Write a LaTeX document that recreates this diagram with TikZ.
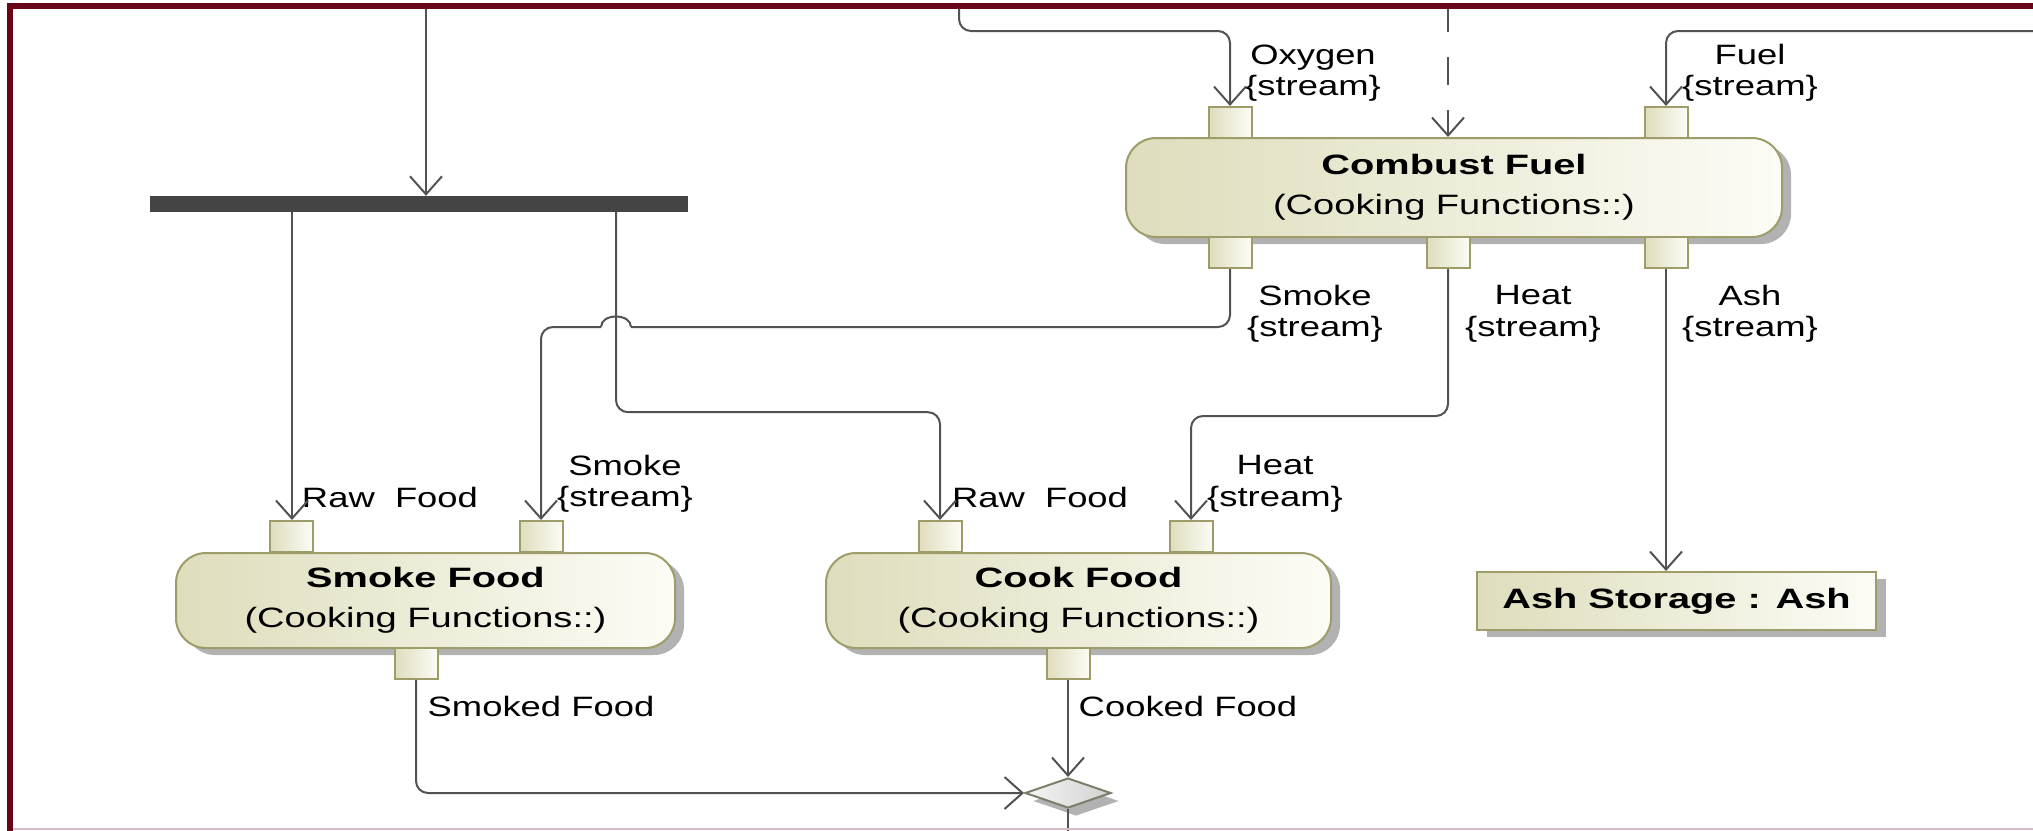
\documentclass[tikz,border=0pt]{standalone}
\usepackage{fontspec}
\setmainfont{Liberation Sans}
\newfontfamily\lblfont[FakeStretch=1.3]{Liberation Sans}
\newfontfamily\subfont[FakeStretch=1.36]{Liberation Sans}
\newfontfamily\ttlfont[FakeStretch=1.42]{Liberation Sans}
\usetikzlibrary{arrows.meta,shapes.geometric,shadows}

\definecolor{framered}{RGB}{105,5,25}
\definecolor{framelow}{RGB}{210,190,195}
\definecolor{flowgray}{RGB}{82,82,82}
\definecolor{actborder}{RGB}{158,156,104}
\definecolor{actleft}{RGB}{222,221,188}
\definecolor{actright}{RGB}{252,252,246}
\definecolor{forkgray}{RGB}{68,68,68}
\definecolor{shadowgray}{RGB}{178,178,178}
\definecolor{mergeborder}{RGB}{125,125,105}

\tikzset{
  action/.style={rectangle, rounded corners=30pt, draw=actborder, line width=2pt,
    left color=actleft, right color=actright,
    drop shadow={shadow xshift=9pt, shadow yshift=-7pt, fill=shadowgray, opacity=1},
    inner sep=0pt, align=center, font=\fontsize{28}{40}\selectfont},
  objnode/.style={rectangle, draw=actborder, line width=2pt,
    left color=actleft, right color=actright,
    drop shadow={shadow xshift=10pt, shadow yshift=-7pt, fill=shadowgray, opacity=1},
    inner sep=0pt, font=\ttlfont\bfseries\fontsize{28}{34}\selectfont},
  pin/.style={rectangle, draw=actborder, line width=2pt,
    left color=actleft, right color=actright,
    minimum width=43pt, minimum height=31pt, inner sep=0pt},
  forkbar/.style={rectangle, fill=forkgray, inner sep=0pt},
  merge/.style={diamond, draw=mergeborder, line width=2pt,
    left color=black!4, right color=black!18,
    minimum width=86pt, minimum height=30pt, inner sep=0pt,
    drop shadow={shadow xshift=8pt, shadow yshift=-8pt, fill=shadowgray, opacity=1}},
  lbl/.style={inner sep=0pt, align=center, font=\lblfont\fontsize{28}{31.5}\selectfont},
  plainline/.style={draw=flowgray, line width=2pt, rounded corners=12pt},
  flow/.style={plainline, -{Straight Barb[length=18pt, width=32pt]}},
  ctrl/.style={flow, dash pattern=on 28pt off 25pt},
  frameline/.style={draw=framered, line width=5.5pt},
}

\begin{document}
\begin{tikzpicture}[x=1pt, y=-1pt]
\useasboundingbox (0,0) rectangle (2033,830);

% fork bar
\node[forkbar, minimum width=538pt, minimum height=16pt] (fork) at (419,204) {};

% actions
\node[action, minimum width=656pt, minimum height=99pt] (combust) at (1454,187.5)
  {{\ttlfont\bfseries Combust Fuel}\\{\subfont (Cooking Functions::)}};
\node[action, minimum width=499pt, minimum height=95pt] (smoke) at (425.5,600.5)
  {{\ttlfont\bfseries Smoke Food}\\{\subfont (Cooking Functions::)}};
\node[action, minimum width=505pt, minimum height=95pt] (cook) at (1078.5,600.5)
  {{\ttlfont\bfseries Cook Food}\\{\subfont (Cooking Functions::)}};

% object node
\node[objnode, minimum width=399pt, minimum height=58pt] (ash) at (1676.5,601) {Ash Storage : Ash};

% merge node
\node[merge] (mrg) at (1068,793) {};

% pins of Combust Fuel
\node[pin] (pOxy) at (1230,122.5) {};
\node[pin] (pFuel) at (1666,122.5) {};
\node[pin] (pSmokeOut) at (1230,252.5) {};
\node[pin] (pHeatOut) at (1448,252.5) {};
\node[pin] (pAshOut) at (1666,252.5) {};
% pins of Smoke Food
\node[pin] (pSFraw) at (291,536.5) {};
\node[pin] (pSFsmoke) at (541,536.5) {};
\node[pin] (pSFout) at (416,663.5) {};
% pins of Cook Food
\node[pin] (pCFraw) at (940,536.5) {};
\node[pin] (pCFheat) at (1191,536.5) {};
\node[pin] (pCFout) at (1068,663.5) {};

% pin labels
\node[lbl] (lOxy) at (1313,73) {Oxygen\\\{stream\}};
\node[lbl] (lFuel) at (1750,73) {Fuel\\\{stream\}};
\node[lbl] (lSmokeOut) at (1315,314) {Smoke\\\{stream\}};
\node[lbl] (lHeatOut) at (1533,314) {Heat\\\{stream\}};
\node[lbl] (lAshOut) at (1750,314) {Ash\\\{stream\}};
\node[lbl] (lSFsmoke) at (625,484) {Smoke\\\{stream\}};
\node[lbl] (lCFheat) at (1275,484) {Heat\\\{stream\}};
\node[lbl] (lSFraw) at (390,497) {Raw~~Food};
\node[lbl] (lCFraw) at (1040,497) {Raw~~Food};
\node[lbl] (lSFout) at (541,706) {Smoked Food};
\node[lbl] (lCFout) at (1188,706) {Cooked Food};

% free ends of flows
\coordinate (inTop) at (426,6);
\coordinate (oxTop) at (959,6);
\coordinate (ctlTop) at (1448,4);
\coordinate (fuelRight) at (2040,31);
\coordinate (forkL) at ([xshift=-127pt]fork.south);
\coordinate (forkR) at ([xshift=197pt]fork.south);
\coordinate (hopR) at (631,327);
\coordinate (hopL) at (601,327);
\coordinate (mrgOut) at (1068,832);

% flows
\draw[flow] (inTop) -- (inTop |- fork.north);
\draw[flow] (forkL) -- (forkL |- pSFraw.north);
\draw[flow] (forkR) -- ++(0,200) -| (pCFraw.north);
\draw[plainline] (pSmokeOut.south) |- (hopR);
\draw[draw=flowgray, line width=2pt] (hopR) .. controls (631,313) and (601,313) .. (hopL);
\draw[flow] (hopL) -| (pSFsmoke.north);
\draw[flow] (pHeatOut.south) -- ++(0,147) -| (pCFheat.north);
\draw[flow] (pAshOut.south) -- (pAshOut.south |- ash.north);
\draw[flow] (oxTop) -- ++(0,25) -| (pOxy.north);
\draw[ctrl] (ctlTop) -- (ctlTop |- combust.north);
\draw[flow] (fuelRight) -| (pFuel.north);
\draw[flow] (pSFout.south) |- (mrg.west);
\draw[flow] (pCFout.south) -- (mrg.north);
\draw[plainline] (mrg.south) -- (mrgOut);

% frame
\draw[draw=framelow, line width=2pt] (9,828.5) -- (2040,828.5);
\draw[frameline] (10,835) -- (10,5.8) -- (2040,5.8);
\end{tikzpicture}
\end{document}
